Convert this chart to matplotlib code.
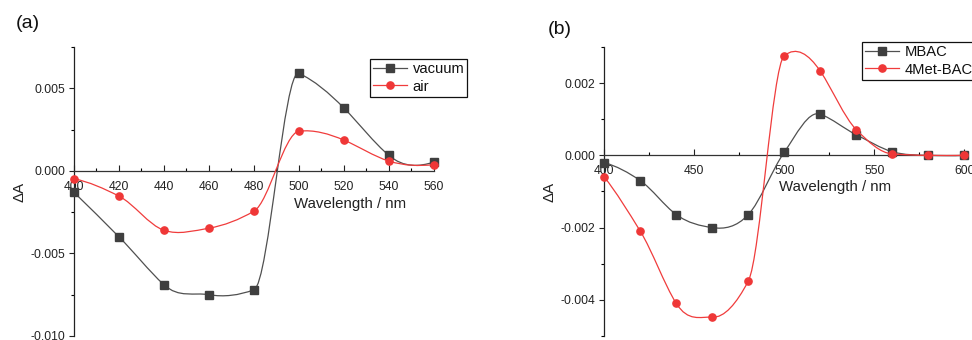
import numpy as np
import matplotlib
matplotlib.use("Agg")
import matplotlib.pyplot as plt
from matplotlib.path import Path
from matplotlib.patches import PathPatch
from matplotlib.lines import Line2D
from matplotlib.ticker import MultipleLocator, FormatStrFormatter

plt.rcParams['font.family'] = ['Liberation Sans', 'DejaVu Sans']
plt.rcParams['axes.unicode_minus'] = False

# ---------------- data ----------------
wl_a = [400, 420, 440, 460, 480, 500, 520, 540, 560]
vacuum = [-0.0013, -0.0040, -0.0069, -0.0075, -0.0072, 0.0059, 0.0038, 0.00093, 0.00053]
air = [-0.00048, -0.00153, -0.0036, -0.00347, -0.00244, 0.0024, 0.00186, 0.00059, 0.00038]

wl_b = [400, 420, 440, 460, 480, 500, 520, 540, 560, 580, 600]
mbac = [-0.0002, -0.0007, -0.00164, -0.0020, -0.00164, 0.00009, 0.00114, 0.00057, 0.0001, 0.0, 0.0]
met4 = [-0.0006, -0.0021, -0.0041, -0.00448, -0.00348, 0.00276, 0.00233, 0.00071, 0.00004, 0.0, 0.0]

labels_a = ["vacuum", "air"]
labels_b = ["MBAC", "4Met-BAC"]

GRAY_LINE = "#505050"
GRAY_MARK = "#3f3f3f"
RED_LINE = "#f03c3c"
RED_MARK = "#ef3737"


def akima_tangents(x, y):
    x = np.asarray(x, float)
    y = np.asarray(y, float)
    m = np.diff(y) / np.diff(x)
    n = len(m)
    mm = np.empty(n + 4)
    mm[2:-2] = m
    mm[1] = 2 * m[0] - m[1]
    mm[0] = 2 * mm[1] - m[0]
    mm[-2] = 2 * m[-1] - m[-2]
    mm[-1] = 2 * mm[-2] - m[-1]
    t = np.empty(len(x))
    for i in range(len(x)):
        w1 = abs(mm[i + 3] - mm[i + 2])
        w2 = abs(mm[i + 1] - mm[i])
        if w1 + w2 < 1e-15:
            t[i] = 0.5 * (mm[i + 1] + mm[i + 2])
        else:
            t[i] = (w1 * mm[i + 1] + w2 * mm[i + 2]) / (w1 + w2)
    return t


def smooth_path(x, y):
    t = akima_tangents(x, y)
    verts = [(x[0], y[0])]
    codes = [Path.MOVETO]
    for i in range(len(x) - 1):
        h = x[i + 1] - x[i]
        verts += [(x[i] + h / 3, y[i] + t[i] * h / 3),
                  (x[i + 1] - h / 3, y[i + 1] - t[i + 1] * h / 3),
                  (x[i + 1], y[i + 1])]
        codes += [Path.CURVE4] * 3
    return Path(verts, codes)


def draw_series(ax, x, y, lc, mc, marker, z):
    ax.add_patch(PathPatch(smooth_path(x, y), fill=False, ec=lc, lw=0.9,
                           clip_on=False, zorder=z))
    ax.plot(x, y, ls='none', marker=marker, ms=5.2, mfc=mc, mec=mc,
            clip_on=False, zorder=z + 0.5)


def style_axes(ax, xlim, ylim, xmaj, xmin, ymaj, ymin):
    ax.set_xlim(*xlim)
    ax.set_ylim(*ylim)
    for s in ['top', 'right']:
        ax.spines[s].set_visible(False)
    ax.spines['bottom'].set_position(('data', 0))
    ax.spines['bottom'].set_color('#333333')
    ax.spines['bottom'].set_linewidth(0.9)
    ax.spines['left'].set_linewidth(0.9)
    ax.spines['left'].set_color('#222222')
    ax.xaxis.set_major_locator(MultipleLocator(xmaj))
    ax.xaxis.set_minor_locator(MultipleLocator(xmin))
    ax.yaxis.set_major_locator(MultipleLocator(ymaj))
    ax.yaxis.set_minor_locator(MultipleLocator(ymin))
    ax.yaxis.set_major_formatter(FormatStrFormatter('%.3f'))
    ax.tick_params(axis='x', which='major', direction='in', length=4, width=0.8,
                   pad=7, labelsize=8.7, colors='#222222')
    ax.tick_params(axis='x', which='minor', direction='in', length=2.5, width=0.8)
    ax.tick_params(axis='y', which='major', direction='out', length=3.5, width=0.8,
                   pad=3, labelsize=8.7, colors='#222222')
    ax.tick_params(axis='y', which='minor', direction='out', length=2, width=0.8)
    ax.patch.set_alpha(0)


fig = plt.figure(figsize=(9.72, 3.40), dpi=100)

# ---------------- panel (a) ----------------
axa = fig.add_axes([0.0761, 0.0118, 0.3704, 0.8500])
style_axes(axa, (400, 560), (-0.010, 0.0075), 20, 10, 0.005, 0.0025)
draw_series(axa, wl_a, vacuum, GRAY_LINE, GRAY_MARK, 's', 3)
draw_series(axa, wl_a, air, RED_LINE, RED_MARK, 'o', 4)
axa.set_xlabel("Wavelength / nm", fontsize=10.8, color='#222222')
axa.xaxis.label.set_va('center')
axa.xaxis.set_label_coords(0.768, 0.457)
axa.set_ylabel("ΔA", fontsize=10.8, color='#222222')
axa.yaxis.label.set_va('center')
axa.yaxis.set_label_coords(-0.15, 0.498)

# ---------------- panel (b) ----------------
axb = fig.add_axes([0.6217, 0.0118, 0.3704, 0.8500])
style_axes(axb, (400, 600), (-0.005, 0.003), 50, 25, 0.002, 0.001)
draw_series(axb, wl_b, mbac, GRAY_LINE, GRAY_MARK, 's', 3)
draw_series(axb, wl_b, met4, RED_LINE, RED_MARK, 'o', 4)
axb.set_xlabel("Wavelength / nm", fontsize=10.8, color='#222222')
axb.xaxis.label.set_va('center')
axb.xaxis.set_label_coords(0.6417, 0.5145)
axb.set_ylabel("ΔA", fontsize=10.8, color='#222222')
axb.yaxis.label.set_va('center')
axb.yaxis.set_label_coords(-0.152, 0.498)

# ---------------- legends ----------------
def make_handles():
    return [Line2D([], [], color=GRAY_LINE, lw=0.9, marker='s', ms=5.2,
                   mfc=GRAY_MARK, mec=GRAY_MARK),
            Line2D([], [], color=RED_LINE, lw=0.9, marker='o', ms=5.2,
                   mfc=RED_MARK, mec=RED_MARK)]


for ax, labs, anchor in [(axa, labels_a, (370 / 972, 1 - 59 / 340)),
                         (axb, labels_b, (862 / 972, 1 - 42 / 340))]:
    leg = ax.legend(make_handles(), labs, loc='upper left',
                    bbox_to_anchor=anchor, bbox_transform=fig.transFigure,
                    borderaxespad=0, fontsize=10.6, frameon=True, fancybox=False,
                    shadow=False, framealpha=1, edgecolor='#111111',
                    borderpad=0.2, handlelength=2.3, handletextpad=0.4,
                    labelspacing=0.25)
    leg.get_frame().set_linewidth(0.9)
    for t in leg.get_texts():
        t.set_color('#111111')

fig.text(27.8 / 972, 1 - 23 / 340, "(a)", fontsize=14, ha='center', va='center',
         color='#111111')
fig.text(559.5 / 972, 1 - 29 / 340, "(b)", fontsize=14, ha='center', va='center',
         color='#111111')

fig.savefig("out.png", dpi=100)
